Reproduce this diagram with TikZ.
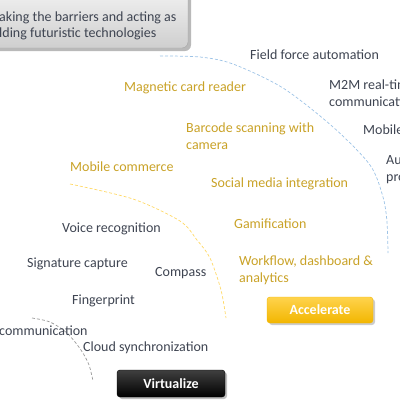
\documentclass[tikz,border=0pt]{standalone}
\usepackage{fontspec}
\setmainfont{Carlito}
\definecolor{dk}{HTML}{3E4451}
\definecolor{gd}{HTML}{C9A227}
\definecolor{arcblue}{HTML}{9DC3E6}
\definecolor{arcyel}{HTML}{FFD966}
\definecolor{acctop}{HTML}{FFD34D}
\definecolor{accbot}{HTML}{F2B600}
\tikzset{
  dtxt/.style={anchor=west, inner sep=0pt, text=dk, font=\fontsize{14}{17}\selectfont, align=left},
  gtxt/.style={anchor=west, inner sep=0pt, text=gd, font=\fontsize{14}{17}\selectfont, align=left},
  btn/.style={rounded corners=3pt, minimum width=106pt, minimum height=26pt, text=white, font=\fontsize{14}{16}\selectfont\bfseries, inner sep=0pt},
  arcline/.style={line width=0.7pt, dash pattern=on 3pt off 2pt}
}
\begin{document}
\begin{tikzpicture}[x=1pt,y=-1pt]
\useasboundingbox (0,0) rectangle (400,400);
\clip (0,0) rectangle (400,400);
% top box
\fill[gray!55, rounded corners=6pt] (-20,-8) rectangle (191,51);
\node[draw=gray!70, rounded corners=6pt, top color=gray!12, bottom color=gray!38, minimum width=208pt, minimum height=56pt, inner sep=0pt] (topbox) at (84,20) {};
\node[anchor=west, inner sep=0pt, text=dk, font=\fontsize{14}{16.5}\selectfont, align=left] (toptxt) at (-1,26) {aking the barriers and acting as\\lding futuristic technologies};
% arcs
\draw[arcline, arcblue] plot[smooth] coordinates {(160,56) (200,57) (233,64) (283,88) (333,127) (370,165) (383,197) (387,222) (388,253)};
\draw[arcline, arcyel] plot[smooth] coordinates {(70,184) (133,199) (180,221) (197,240) (210,258) (221,290) (226,318)};
\draw[arcline, gray!80] plot[smooth] coordinates {(32,318) (50,322) (67,333) (81,350) (89,365) (93,381)};
% dark texts
\node[dtxt] (ffa) at (250,55) {Field force automation};
\node[dtxt] (m2m) at (329,93) {M2M real-time\\communication};
\node[dtxt] (mob) at (363,131) {Mobile payments};
\node[dtxt] (aut) at (386,169) {Automated\\processes};
\node[dtxt] (voice) at (62,229) {Voice recognition};
\node[dtxt] (sig) at (27,264) {Signature capture};
\node[dtxt] (comp) at (155,273) {Compass};
\node[dtxt] (fing) at (72,301) {Fingerprint};
\node[dtxt] (comm) at (-1,331) {communication};
\node[dtxt] (cloud) at (83,348) {Cloud synchronization};
% gold texts
\node[gtxt] (mag) at (124,88) {Magnetic card reader};
\node[gtxt] (bar) at (186,136.5) {Barcode scanning with\\camera};
\node[gtxt] (mc) at (70,167) {Mobile commerce};
\node[gtxt] (soc) at (211,184) {Social media integration};
\node[gtxt] (gam) at (234,224) {Gamification};
\node[gtxt] (wf) at (239,270.5) {Workflow, dashboard \&\\analytics};
% buttons
\fill[gray!40, rounded corners=3pt] (269,299) rectangle (375,325);
\node[btn, top color=acctop, bottom color=accbot, draw=accbot] (acc) at (320,310) {Accelerate};
\fill[gray!50, rounded corners=3pt] (119,372) rectangle (227,399);
\node[btn, top color=black!75, bottom color=black, draw=black, minimum width=108pt, minimum height=27pt] (virt) at (171,383.5) {Virtualize};
\end{tikzpicture}
\end{document}
